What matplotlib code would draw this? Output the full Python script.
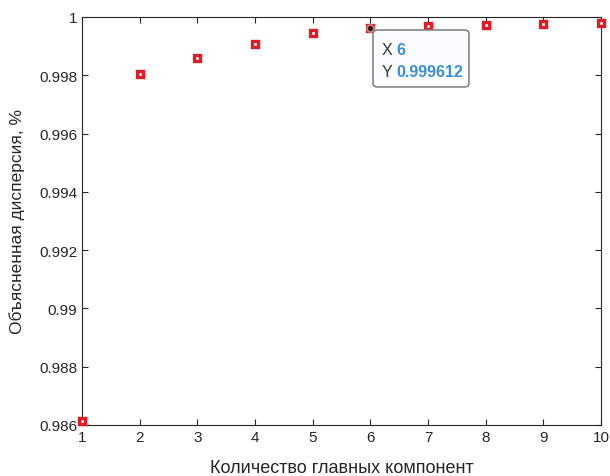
import matplotlib.pyplot as plt
from matplotlib.patches import FancyBboxPatch
from matplotlib.ticker import FuncFormatter

plt.rcParams['font.family'] = ['Liberation Sans', 'DejaVu Sans']

# data
n_components = [1, 2, 3, 4, 5, 6, 7, 8, 9, 10]
explained = [0.98614, 0.99805, 0.99860, 0.99908, 0.99945,
             0.999612, 0.99969, 0.99973, 0.99976, 0.99979]
y_ticks = [0.986, 0.988, 0.99, 0.992, 0.994, 0.996, 0.998, 1.0]
tip_index = 5

fig = plt.figure(figsize=(6.1, 4.77), dpi=100)
ax = fig.add_axes([82 / 610, 1 - 426 / 477, (601 - 82) / 610, (426 - 18) / 477])

ax.plot(n_components, explained, linestyle='none', marker='s', markersize=5,
        markerfacecolor='white', markeredgecolor='#e01b24', markeredgewidth=2.4,
        clip_on=False, zorder=3)

# datatip
tx, ty = n_components[tip_index], explained[tip_index]
ax.plot([tx], [ty], marker='o', markersize=5, color='#3a1a10',
        markeredgecolor='#c08a8a', markeredgewidth=1.2, zorder=5, clip_on=False)
box = FancyBboxPatch((373 / 610, 1 - 88 / 477), 96 / 610, 57 / 477,
                     boxstyle='round,pad=0,rounding_size=0.008',
                     transform=fig.transFigure, facecolor='#fafcff',
                     edgecolor='#7a7a7a', linewidth=1.1, zorder=4,
                     clip_on=False)
ax.add_artist(box)
tip_lines = [('X', str(tx), -15), ('Y', '{:.6f}'.format(ty), -31)]
for lab, val, dy in tip_lines:
    ax.annotate(lab, xy=(tx, ty), xytext=(8, dy), textcoords='offset points',
                fontsize=11.5, color='#333333', va='center', zorder=6)
    ax.annotate(val, xy=(tx, ty), xytext=(19, dy), textcoords='offset points',
                fontsize=11.5, color='#3d8fd1', fontweight='bold', va='center',
                zorder=6)

ax.set_xlim(1, 10)
ax.set_ylim(0.986, 1.0)
ax.set_xticks(n_components)
ax.set_yticks(y_ticks)
ax.yaxis.set_major_formatter(FuncFormatter(lambda v, p: '{:g}'.format(round(v, 6))))
ax.tick_params(direction='in', top=True, right=True, labelsize=11,
               colors='#262626', length=4)
for s in ax.spines.values():
    s.set_color('#262626')
    s.set_linewidth(0.8)

ax.set_xlabel('Количество главных компонент', fontsize=13, color='#262626',
              va='center')
ax.set_ylabel('Объясненная дисперсия, %', fontsize=12.5, color='#262626',
              va='center')
ax.xaxis.set_label_coords(0.5, -0.103)
ax.yaxis.set_label_coords(-0.125, 0.5)

fig.savefig('out.png', dpi=100)
